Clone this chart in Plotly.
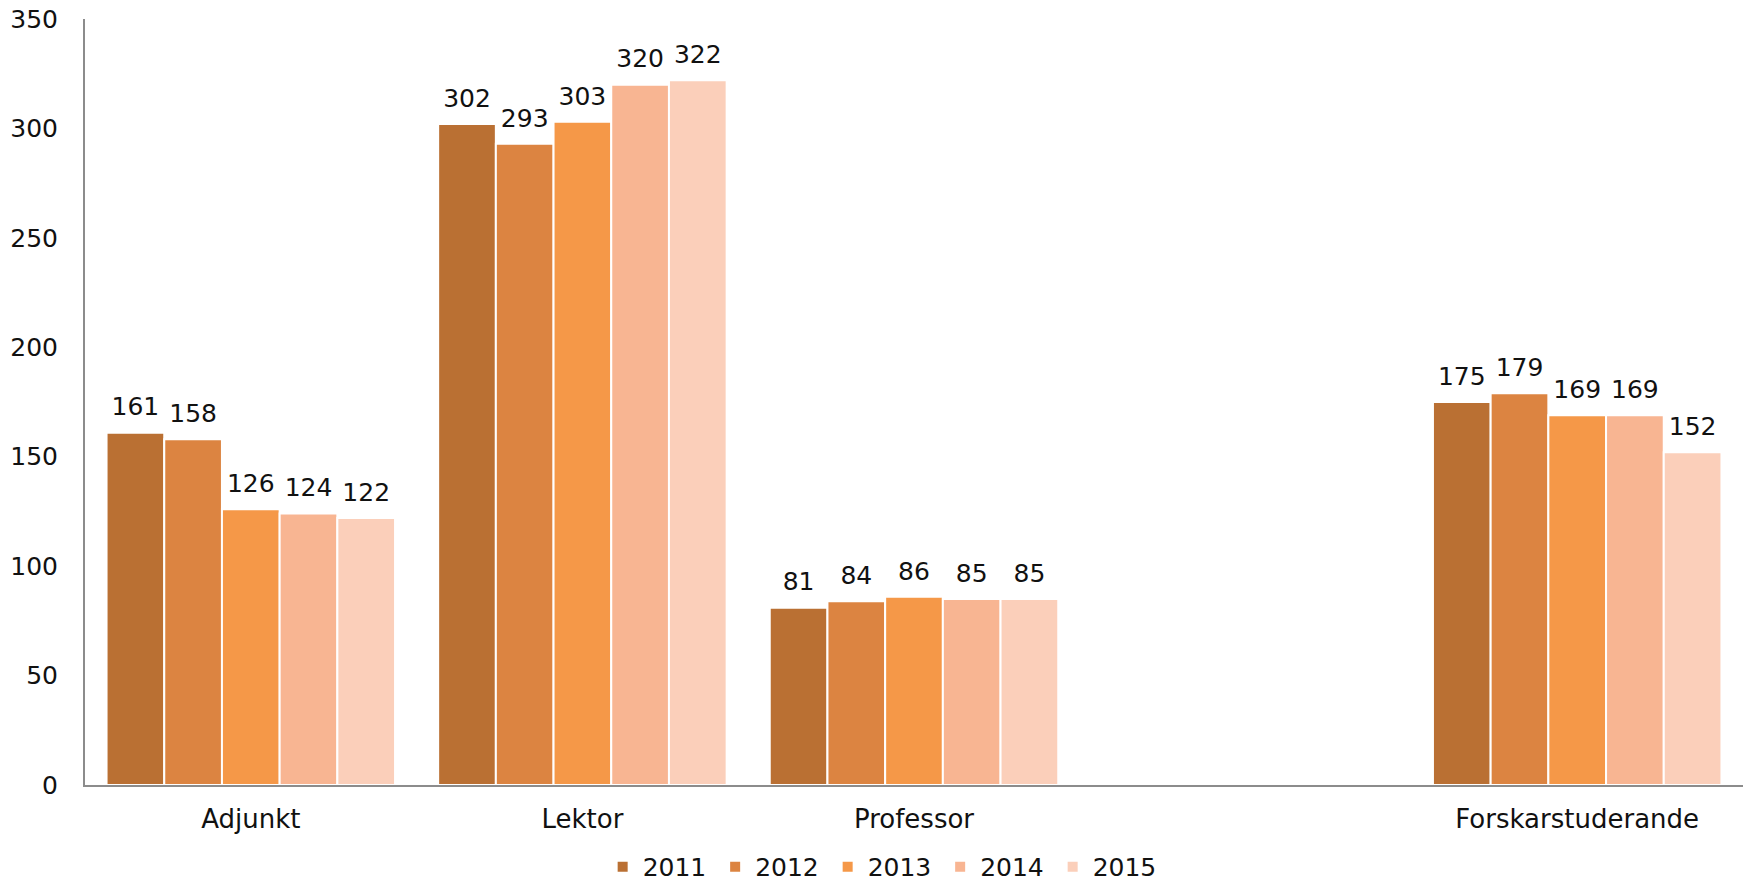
import plotly.graph_objects as go

categories = ["Adjunkt", "Lektor", "Professor", " ", "Forskarstuderande"]
years = ["2011", "2012", "2013", "2014", "2015"]
v2011 = [161, 302, 81, None, 175]
v2012 = [158, 293, 84, None, 179]
v2013 = [126, 303, 86, None, 169]
v2014 = [124, 320, 85, None, 169]
v2015 = [122, 322, 85, None, 152]
series = [v2011, v2012, v2013, v2014, v2015]
colors = ["#BA7033", "#DC8441", "#F59848", "#F8B592", "#FBCFBA"]

FONT = "DejaVu Sans"

fig = go.Figure()
for name, vals, col in zip(years, series, colors):
    fig.add_trace(go.Bar(
        x=categories, y=vals, name=name,
        marker=dict(color=col, line=dict(color="white", width=2)),
    ))
# value labels, grouped like the bars
for name, vals in zip(years, series):
    fig.add_trace(go.Scatter(
        x=categories, y=vals, mode="markers+text", showlegend=False,
        marker=dict(size=16, opacity=0), hoverinfo="skip",
        text=[("" if v is None else str(v)) for v in vals],
        textposition="top center", cliponaxis=False,
        textfont=dict(family=FONT, size=25, color="#111111"),
    ))

fig.update_layout(
    width=1746, height=890,
    barmode="group", bargap=0.13, bargroupgap=0,
    scattermode="group", scattergap=0.13,
    plot_bgcolor="white", paper_bgcolor="white",
    margin=dict(l=85, r=3, t=19, b=105, autoexpand=False),
    font=dict(family=FONT, size=25, color="#111111"),
    showlegend=True,
    legend=dict(orientation="h", x=0.482, xanchor="center", y=-0.137, yanchor="bottom",
                font=dict(family=FONT, size=25, color="#111111"),
                itemwidth=30, entrywidth=67.5, traceorder="normal"),
    xaxis=dict(showline=True, linecolor="#8c8c8c", linewidth=2, ticks="",
               showgrid=False, tickfont=dict(family=FONT, size=26),
               ticklabelstandoff=10, automargin=False),
    yaxis=dict(range=[0, 350], dtick=50, showline=True, linecolor="#8c8c8c",
               linewidth=2, showgrid=False, ticks="", zeroline=False,
               tickfont=dict(family=FONT, size=25), ticklabelstandoff=20,
               automargin=False),
)
fig.write_html(
    "out.html",
    config={"displayModeBar": False},
    post_script="document.body.style.margin='0';document.body.style.overflow='hidden';",
)
